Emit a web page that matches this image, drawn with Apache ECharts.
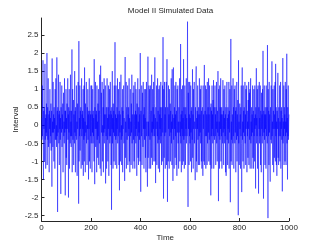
<!DOCTYPE html>
<html><head><meta charset="utf-8">
<script src="https://cdn.jsdelivr.net/npm/echarts@6/dist/echarts.min.js"></script>
<style>html,body{margin:0;padding:0;background:#fff}#c{width:319px;height:249px}</style>
</head><body><div id="c"></div>
<script>
var title = "Model II Simulated Data";
var xName = "Time";
var yName = "Interval";
var xTicks = [0, 200, 400, 600, 800, 1000];
var yTicks = [-2.5, -2, -1.5, -1, -0.5, 0, 0.5, 1, 1.5, 2, 2.5];
var intervals = [
0.2,-0.4,1.1,-0.3,0.3,1.8,-0.5,-1.5,0.4,-0.1, 0.5,-1.0,0.1,1.7,-0.4,0.2,-1.2,0.3,-0.2,0.6, -0.3,2.0,-1.1,0.1,0.5,-0.4,1.3,-0.6,0.0,0.3, -1.3,0.4,-0.1,1.0,-0.5,0.2,-0.3,0.6,-0.7,0.2, 0.4,-1.7,1.85,-0.2,0.1,-0.6,1.2,-0.2,0.3,-1.0,
0.5,-0.1,0.2,-1.2,1.0,-0.4,0.2,1.3,-0.4,0.0, -0.6,1.88,-0.3,0.4,-2.4,0.5,-0.2,0.1,1.4,-0.5, 0.3,-1.1,0.4,-0.1,1.2,-0.4,0.2,-1.9,0.5,0.0, -0.2,1.1,-0.6,0.3,-0.1,0.6,-1.3,0.2,0.9,-0.3, 0.1,-0.5,1.3,-0.2,0.4,-1.94,0.4,-0.1,1.0,-0.9,
0.2,-1.1,0.6,-0.1,0.2,1.3,-0.4,0.3,-2.0,0.5, -0.2,1.0,-1.2,0.1,0.4,-0.5,1.4,-0.3,0.1,-0.6, 0.4,-0.3,2.1,-1.3,0.2,1.0,-0.4,-0.1,0.7,-1.1, 0.3,0.1,-0.5,1.5,-0.2,0.4,-1.3,0.5,-0.3,0.2, 1.1,-0.4,0.1,-1.4,0.6,-0.1,0.3,1.2,-0.4,-2.17,
2.33,-1.0,0.2,-0.3,1.1,-0.7,0.4,-0.1,0.5,-1.2, 0.1,1.3,-0.3,0.3,-1.1,0.4,-0.1,1.0,-1.4,0.2, -0.4,1.1,-1.0,1.6,-0.3,0.1,-1.3,0.6,-0.2,0.3, 1.2,-0.5,0.0,-1.1,0.5,-0.1,1.0,-0.4,0.3,-1.5, 0.4,-0.1,1.3,-1.0,0.2,0.4,-1.2,0.3,-0.3,1.1,
-0.5,0.1,1.1,-1.3,0.3,-0.2,1.0,-0.5,0.4,-0.3, 0.2,-1.0,1.83,-0.3,-1.63,0.5,-0.1,1.2,-0.6,0.3, -0.1,0.4,-1.3,1.1,-0.4,0.1,-0.9,0.6,-0.3,1.0, -1.1,0.3,0.4,-0.5,1.4,-0.1,-1.2,0.3,1.65,-0.4, -1.4,0.9,-0.2,0.2,1.2,-1.0,0.0,-0.3,0.5,-1.3,
1.0,-0.2,1.3,-0.5,0.3,-0.1,0.4,1.1,-1.61,0.3, -0.3,0.5,-1.2,0.1,1.3,-0.4,0.2,-1.0,0.5,-0.1, 1.1,-1.4,0.3,-0.3,1.0,-0.5,0.1,1.2,-0.3,0.4, -1.1,0.3,-2.34,0.5,-0.1,1.5,-0.5,0.2,-1.2,0.6, -0.2,0.4,-1.0,1.1,-0.3,0.1,2.3,-1.1,0.3,-0.4,
1.1,-0.3,0.2,-1.2,0.5,-0.1,1.3,-0.5,0.3,-0.3, 1.0,-0.1,-1.1,0.4,-1.8,1.2,-0.2,0.3,-1.0,0.1, 1.4,-0.4,0.0,-1.1,0.5,-0.3,1.0,-1.3,0.4,-0.1, 0.3,1.1,-0.5,0.2,-0.3,-1.54,0.6,1.89,-0.9,0.1, -0.2,1.2,-1.2,0.3,0.5,-0.4,0.1,1.1,-1.1,0.3,
-0.3,0.5,-0.1,1.3,-1.0,0.2,-1.3,0.4,1.0,-0.3, 0.1,-1.1,0.6,-0.2,1.4,-0.5,0.3,-0.1,-1.2,0.9, 0.2,-0.4,1.1,-1.0,0.3,0.0,-1.2,1.2,-0.3,0.4, -0.5,1.0,-0.1,0.3,-1.4,0.6,-0.3,0.2,1.3,-0.9, 0.1,-1.1,0.5,-0.2,1.0,-0.4,0.3,-1.0,2.0,-0.5,
-1.84,0.4,0.1,-0.3,1.1,-1.1,0.3,0.9,-0.2,-0.6, 1.2,-0.1,0.3,-1.2,0.5,-0.4,1.0,-0.1,0.2,-0.9, 1.0,-1.3,0.3,1.2,-0.3,0.1,-0.6,-1.7,0.4,1.9, -0.9,0.1,-0.3,1.1,-1.2,0.3,1.0,-0.4,0.0,1.1, -1.2,0.2,0.4,-0.9,1.4,-0.2,0.1,-1.1,1.0,-0.3,
0.5,-0.1,1.2,-1.0,0.3,-0.3,0.6,1.88,-1.0,0.2, -1.6,0.5,-0.1,0.3,1.1,-1.1,0.1,-0.3,1.3,-0.5, 0.4,-1.2,0.1,1.0,-0.4,1.1,-1.3,0.3,-0.1,0.5, -0.5,1.2,-0.3,0.2,-1.1,0.5,0.0,-1.0,1.1,-0.2, 2.44,-0.4,-2.03,1.0,0.1,-0.9,1.2,-0.3,0.3,-1.2,
0.5,-0.2,0.3,1.2,-1.1,0.4,1.83,-0.3,-2.12,0.5, 0.2,-1.0,1.1,-0.1,0.3,-1.2,1.0,-0.3,0.1,0.6, -1.0,0.4,-0.2,1.3,-0.5,0.1,-1.1,1.55,-0.1,0.3, -1.54,0.5,1.6,-0.4,0.2,-1.2,0.5,-0.1,1.1,-0.9, 0.3,-0.3,1.2,-1.1,0.4,0.0,-1.4,1.0,-0.2,0.3,
1.1,-0.5,0.1,-1.2,0.5,-0.2,0.3,1.3,-1.0,0.1, -0.3,2.25,-0.5,0.3,-1.3,1.0,-0.1,0.4,-1.1,1.1, -0.3,0.2,-1.0,1.83,-0.4,0.5,-1.2,0.1,1.1,-0.3, 0.3,-1.1,0.5,-0.1,1.3,-0.5,0.2,-0.3,0.6,2.87, -0.4,-2.26,0.9,-0.1,1.2,-1.1,0.3,-0.3,1.2,-0.5,
0.2,-1.0,1.1,-0.2,0.4,-1.3,0.5,0.1,-0.4,1.55, -0.9,0.3,-1.2,1.0,-0.1,0.3,1.2,-0.5,0.1,-0.3, -1.52,0.5,-0.1,1.1,1.63,-1.0,0.2,-1.3,0.4,-0.1, 1.1,-0.4,0.3,-1.1,0.5,0.0,-0.3,1.3,-1.1,0.3, -0.2,1.0,-0.5,0.1,1.1,-1.0,0.4,-1.2,0.2,0.5,
-0.4,-1.4,1.1,-0.1,0.3,-1.0,0.5,1.67,-1.1,0.2, 0.4,-0.3,1.1,-1.2,0.1,1.0,-0.3,0.3,-1.1,1.2, -0.5,0.1,0.5,-0.2,1.3,-1.0,0.3,-0.4,1.1,-0.1, -1.1,0.5,0.2,-1.94,0.6,-0.3,0.4,-1.2,1.1,-0.1, 0.3,-0.5,0.7,-0.3,1.25,-1.2,0.1,0.5,-0.4,0.2,
1.1,-0.3,0.3,-1.1,0.5,-0.1,1.2,-0.5,0.1,-1.0, 0.4,-0.2,1.5,0.3,-2.1,1.0,-0.3,0.1,-1.2,1.1, -0.4,0.5,-0.1,1.3,-1.0,0.3,-0.3,0.5,-1.2,0.3, 0.0,-0.5,1.25,-0.2,0.4,-1.1,1.0,-0.1,0.2,-0.5, 1.1,-0.3,0.3,-1.3,0.5,-1.4,0.1,0.6,1.2,-0.4,
0.2,-1.1,0.5,-0.1,0.3,-0.5,1.2,-1.2,0.4,-0.2, 1.0,-0.3,-2.13,0.3,2.39,-1.0,0.1,-0.4,1.1,-1.1, 0.3,0.1,-0.5,1.3,-0.3,0.5,-1.2,0.2,1.0,-0.1, -0.5,1.1,-0.2,0.4,-1.3,0.5,0.0,-0.4,1.2,-1.0, 0.3,-0.3,0.7,0.2,-2.49,1.8,-0.5,0.1,-1.1,0.4,
0.6,-0.1,0.3,-1.2,0.5,-0.3,1.1,-0.5,-1.85,0.2, 1.6,-0.4,0.1,-1.0,1.1,-0.2,0.4,-1.2,0.5,0.0, -0.3,1.2,-0.5,0.3,-1.1,1.0,-0.1,0.3,1.1,-1.3, 0.4,-0.3,0.1,-0.9,0.7,-0.1,1.2,-1.1,0.2,0.9, -0.4,1.0,-1.2,0.3,1.3,-0.5,0.1,-0.3,0.5,-1.2,
0.3,-0.2,1.1,-0.9,0.1,0.4,-1.2,1.0,-0.3,0.2, -1.0,1.1,-0.1,0.3,-1.75,0.5,0.0,1.58,-0.5,0.2, -0.3,1.0,-1.2,0.3,1.1,-0.4,-1.89,0.5,-0.1,1.2, -0.5,0.2,-0.3,1.1,-1.1,0.4,0.1,-1.3,0.9,-0.1, 0.3,-0.5,1.0,-0.3,2.06,-0.6,-2.03,0.4,-0.2,1.1,
-0.4,0.3,-1.1,0.5,-0.1,0.3,-1.2,1.1,-0.3,0.1, 0.5,-0.5,2.22,0.2,-2.57,1.0,-0.3,0.4,-1.1,1.2, -0.2,0.3,-1.0,-1.56,0.5,0.1,-0.4,1.1,-0.5,0.3, 1.77,-0.3,0.1,-1.1,1.0,-0.1,0.4,-1.3,0.2,1.1, -0.9,0.3,-0.1,1.2,-1.0,1.7,-0.3,0.5,-1.1,0.1,
-1.4,0.4,-0.1,0.6,1.45,-0.9,0.2,-1.1,0.5,-0.3, 0.3,1.1,-1.0,0.1,-0.3,1.2,-1.2,0.4,-0.1,0.5, -0.4,0.2,-1.83,0.3,1.86,-0.5,0.1,-0.3,1.1,-1.1, 0.5,-0.1,0.3,-1.0,1.2,-0.3,0.1,-1.1,1.0,-0.2, 1.98,-0.5,0.2,-1.5,0.5,-0.3,1.1,-0.4,0.1,0.3
];

var seriesData = intervals.map(function (v, i) { return [i + 1, v]; });
var font = '"Liberation Sans", Arial, sans-serif';
var txt = '#262626';
var chart = echarts.init(document.getElementById('c'), null, {renderer: 'canvas'});
chart.setOption({
  animation: false,
  backgroundColor: '#fff',
  title: {
    text: title, left: 165.5, top: 2, textAlign: 'center',
    textStyle: {fontFamily: font, fontSize: 8, fontWeight: 'normal', color: txt}
  },
  grid: {left: 41.5, right: 30, top: 18, bottom: 28, containLabel: false},
  xAxis: {
    type: 'value', min: 0, max: 1000, interval: 200,
    name: xName, nameLocation: 'middle', nameGap: 13, nameMoveOverlap: false,
    nameTextStyle: {fontFamily: font, fontSize: 8, color: txt},
    axisLine: {onZero: false, lineStyle: {color: txt, width: 1}},
    axisTick: {inside: true, length: 3, lineStyle: {color: txt}, customValues: xTicks},
    axisLabel: {fontFamily: font, fontSize: 8, color: txt, margin: 3, customValues: xTicks,
      formatter: function (v) { return String(v); }},
    splitLine: {show: false}
  },
  yAxis: {
    type: 'value', min: -2.65, max: 2.97,
    name: yName, nameLocation: 'middle', nameGap: 22, nameMoveOverlap: false,
    nameTextStyle: {fontFamily: font, fontSize: 8, color: txt},
    axisLine: {show: true, onZero: false, lineStyle: {color: txt, width: 1}},
    axisTick: {show: true, inside: true, length: 3, lineStyle: {color: txt}, customValues: yTicks},
    axisLabel: {fontFamily: font, fontSize: 8, color: txt, margin: 3, customValues: yTicks,
      formatter: function (v) { return String(v); }},
    splitLine: {show: false}
  },
  series: [{
    type: 'line', data: seriesData, showSymbol: false, symbol: 'none',
    lineStyle: {color: '#0000ff', width: 0.5}, clip: true, silent: true
  }]
});
</script></body></html>
